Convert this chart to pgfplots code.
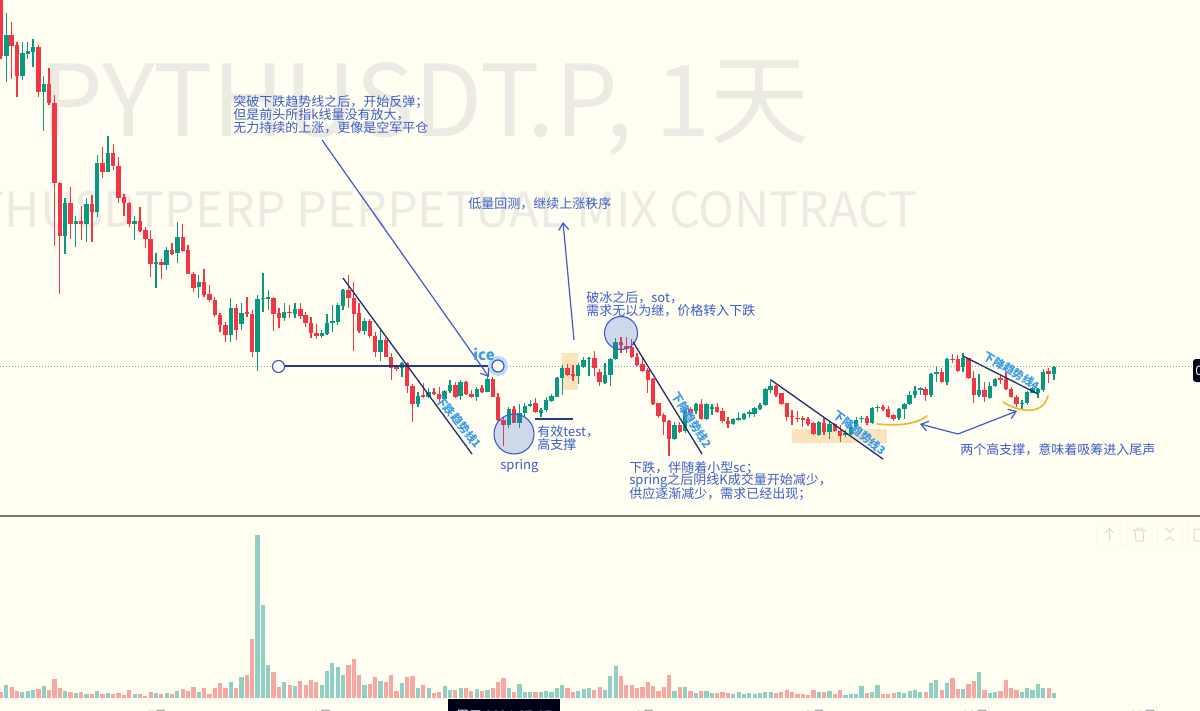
\documentclass[border=0pt]{standalone}
\usepackage{pgfplots}
\usepackage{pgfplotstable}
\pgfplotsset{compat=1.18}
\usetikzlibrary{arrows.meta}
\usepackage{fontspec}
\setmainfont{Noto Sans CJK SC}
\definecolor{bg}{HTML}{FFFEF0}
\definecolor{wm}{HTML}{ECEBE3}
\definecolor{cg}{HTML}{089981}
\definecolor{cr}{HTML}{F23645}
\definecolor{vg}{HTML}{90CFC3}
\definecolor{vr}{HTML}{F7A6A2}
\definecolor{tb}{HTML}{3C5CCC}
\definecolor{lb}{HTML}{3A9AEA}
\definecolor{nv}{HTML}{243A85}
\definecolor{tl}{HTML}{1F2E6E}
\definecolor{org}{HTML}{FBE3BC}
\definecolor{yl}{HTML}{F3B72E}
\definecolor{dot}{HTML}{5FAEA3}
\definecolor{icon}{HTML}{DCDBD2}
\definecolor{ibox}{HTML}{F8F7EA}
\definecolor{cf}{HTML}{3F6AD8}
% i high bodytop bodybottom low volume(px)
\pgfplotstableread{
i hi top bot lo v
1 13 35 56 82 13.3
4 42 53 76 80 6
5 42 51 54 59 6.7
6 39 47 52 67 8.3
8 76 84 92 131 11.7
12 198 203 236 254 6.7
14 216 221 224 247 4.7
16 198 204 224 242 3.7
18 155 163 212 217 6.7
20 136 153 172 172 4.7
25 216 221 224 240 4
29 253 262 264 288 5
31 247 250 265 270 5.3
33 222 237 253 263 7.3
37 275 282 287 298 6.3
43 298 308 335 342 16
45 303 313 324 330 21.3
48 295 299 352 371 163
49 273 298 299 312 93
50 290 297 299 310 32.7
53 303 312 318 321 15.7
55 303 309 314 318 11.7
60 330 333 336 338 13.3
61 314 323 334 335 26.7
62 305 321 323 332 35
63 303 305 322 325 30.7
64 289 290 306 310 23
68 318 321 331 335 12.7
71 328 340 352 361 17
75 362 363 368 377 15
78 392 396 404 407 10
80 388 392 397 398 10
83 390 391 399 400 11.7
84 380 385 391 393 8
86 380 382 396 400 9.7
89 387 389 397 401 9
91 375 379 392 392 8
95 407 409 425 428 10
97 404 413 423 428 14
98 403 406 413 417 6
99 400 404 406 407 6
101 408 410 413 417 6.3
102 397 400 410 412 7
103 394 396 401 402 6.3
104 377 378 397 397 10
105 365 368 378 395 13.3
108 363 365 376 384 7
109 357 360 367 368 8.7
110 357 358 359 376 9.7
113 363 375 383 384 7.7
114 358 359 375 386 22.3
115 338 342 359 360 32.3
126 422 425 439 440 7.3
128 407 409 431 433 10.7
130 403 404 411 414 5
132 403 404 419 420 7.3
133 404 407 409 415 5
137 418 419 424 425 4
138 412 418 420 421 5.7
139 413 414 419 420 4.3
140 410 412 414 418 4.7
141 407 408 414 417 4
142 403 405 409 410 5
143 388 389 405 406 5.7
144 379 386 390 393 5.7
153 421 422 435 436 6.3
155 422 424 432 439 6.7
158 430 433 435 437 3.3
159 425 427 434 435 3.7
160 417 420 427 428 3.7
161 416 418 419 423 11.7
163 407 408 423 424 5.7
164 405 407 408 412 12.7
168 408 409 418 420 6.3
169 403 404 409 419 4.7
170 391 395 404 405 7.3
171 386 391 395 398 7.7
172 387 388 390 395 6.3
174 373 374 395 397 15.3
175 367 372 374 382 17.7
177 358 359 382 385 15.3
180 353 358 367 372 9
183 374 390 395 397 25.7
185 382 386 398 399 5.3
186 378 379 386 387 6
191 400 403 404 409 5.7
192 391 392 403 405 10.3
193 387 388 393 393 8.3
194 388 389 393 398 14
195 369 372 390 392 9.7
197 366 367 374 380 5
}\greens
\pgfplotstableread{
i hi top bot lo v
0 -10 -5 56 59 6.3
2 22 35 46 79 10.7
3 42 45 76 97 6.7
7 45 47 92 97 9
9 68 84 103 105 7.7
10 95 103 183 246 18.7
11 182 183 236 294 10
13 187 203 224 239 5.7
15 206 221 224 240 5.7
17 195 204 212 242 4
19 147 163 172 178 4
21 144 153 166 170 4
22 157 166 198 203 4.7
23 194 197 203 216 3
24 202 203 224 227 8.3
26 207 221 231 232 4
27 227 230 239 248 2.3
28 230 239 264 277 5.7
30 259 262 265 279 4
32 243 250 254 255 4
34 224 237 251 252 9
35 245 250 274 274 7.3
36 272 274 288 292 11
38 269 282 295 297 9.7
39 285 294 300 302 4
40 297 300 315 317 9.7
41 313 315 325 332 15
42 322 325 335 342 9.7
44 304 308 330 340 10
46 297 312 314 317 22.7
47 310 314 352 357 59
51 297 298 314 331 26
52 308 313 318 328 10.7
54 305 312 313 318 13.3
56 303 309 316 319 17
57 312 315 323 327 13.3
58 317 323 333 338 18
59 324 333 336 339 16
65 275 290 298 308 33.3
66 282 298 314 351 39
67 303 313 331 333 23
69 319 321 336 338 14.3
70 332 336 352 357 21.3
72 338 340 357 357 16
73 353 357 368 380 22.7
74 365 367 369 371 6.7
76 362 363 386 393 20.7
77 384 386 404 422 22.3
79 383 395 397 398 13.3
81 388 392 394 395 5.3
82 387 394 399 402 5.7
85 382 385 397 398 7.7
87 381 382 394 395 10
88 390 394 397 398 6.7
90 385 388 392 393 7.3
92 377 379 397 397 10.3
93 393 397 420 421 15.7
94 417 420 425 446 20.3
96 406 409 423 423 6.3
100 398 403 412 413 6
106 364 368 375 376 9.7
107 365 374 376 381 6
111 351 358 368 376 8
112 369 372 382 386 10.7
116 337 342 345 353 22.3
117 337 346 349 353 13
118 339 347 357 358 13.3
119 353 357 365 366 9.7
120 358 364 371 372 11.3
121 368 370 380 393 16
122 378 379 404 405 12
123 403 403 416 418 7.3
124 413 415 422 435 10.7
125 420 421 439 456 23.3
127 422 425 432 433 11
129 407 409 414 417 7
131 399 404 419 420 6.7
134 403 407 412 413 5.3
135 408 411 421 423 5.7
136 417 421 424 428 5.3
145 385 386 395 397 4.7
146 393 393 404 405 5.7
147 403 403 417 421 8
148 410 416 417 425 5.7
149 411 418 419 422 4.3
150 416 418 420 427 3.7
151 417 419 424 426 3
152 422 423 434 435 7.7
154 417 423 432 435 5.7
156 423 424 431 432 4
157 425 431 436 442 8.3
162 416 418 423 425 5
165 405 407 409 411 4.3
166 406 409 417 418 4.3
167 414 415 419 421 5
173 387 389 395 401 6.3
176 368 372 382 383 8.3
178 354 359 360 363 19.7
179 355 359 371 372 9
181 358 358 378 379 13.7
182 371 378 395 403 16.7
184 382 390 397 402 8.3
187 374 378 380 384 6.7
188 372 379 389 390 18
189 387 389 397 398 10.3
190 395 397 404 407 8.3
196 368 371 374 383 10.3
}\reds
\newcommand{\cjk}[1]{\fontsize{#1}{#1}\selectfont}
\tikzset{
 ann/.style={anchor=west,inner sep=0pt,text=tb,font=\cjk{6.5}},
 rot/.style={inner sep=0pt,text=lb,font=\cjk{5.6}\bfseries},
 lbl/.style={anchor=north,inner sep=0pt,text=black!45,font=\cjk{6.5}},
}
\pgfplotsset{
 wicks/.style 2 args={draw=none,mark=none,forget plot,error bars/.cd,y dir=both,y explicit,error mark=none,error bar style={draw=#1,line width=#2}},
}
\begin{document}
\begin{tikzpicture}
\path[use as bounding box] (0,0) rectangle (600pt,355.5pt);
\fill[bg] (0,0) rectangle (600pt,355.5pt);
\begin{scope}
\clip (0,0) rectangle (600pt,355.5pt);
\begin{axis}[at={(0,0)},anchor=south west,scale only axis,width=600pt,height=355.5pt,
  xmin=0,xmax=1200,ymin=0,ymax=711,y dir=reverse,hide axis,clip=true]
% watermark
\node[anchor=base west,inner sep=0pt,text=wm,font=\cjk{49.6}] at (40,137) {PYTHUSDT.P, 1天};
\node[anchor=base east,inner sep=0pt,text=wm,font=\cjk{24.3}] at (918,228) {PYTHUSDTPERP PERPETUAL MIX CONTRACT};
% price line and boxes under the candles
\draw[dot,line width=.5pt,dash pattern=on .5pt off 1pt] (0,366) -- (1194,366);
\fill[org] (562,353) rectangle (578,390);
\fill[org] (792,429) rectangle (887,443);
% candles
\addplot[wicks={cg}{.65pt}] table[x expr=1+5.345*\thisrow{i},y=top,y error plus expr=\thisrow{lo}-\thisrow{top},y error minus expr=\thisrow{top}-\thisrow{hi}] {\greens};
\addplot[wicks={cr}{.65pt}] table[x expr=1+5.345*\thisrow{i},y=top,y error plus expr=\thisrow{lo}-\thisrow{top},y error minus expr=\thisrow{top}-\thisrow{hi}] {\reds};
\addplot[wicks={cg}{2.2pt}] table[x expr=1+5.345*\thisrow{i},y=top,y error plus expr=\thisrow{bot}-\thisrow{top},y error minus expr=0] {\greens};
\addplot[wicks={cr}{2.2pt}] table[x expr=1+5.345*\thisrow{i},y=top,y error plus expr=\thisrow{bot}-\thisrow{top},y error minus expr=0] {\reds};
% volume
\addplot[wicks={vg}{2.1pt}] table[x expr=1+5.345*\thisrow{i},y expr=698-\thisrow{v},y error plus expr=\thisrow{v},y error minus expr=0] {\greens};
\addplot[wicks={vr}{2.1pt}] table[x expr=1+5.345*\thisrow{i},y expr=698-\thisrow{v},y error plus expr=\thisrow{v},y error minus expr=0] {\reds};
% divider
\draw[black!53,line width=.8pt] (0,516) -- (1200,516);
% circles
\fill[cf,fill opacity=.25] (514,434) circle[radius=10pt];
\draw[tb,line width=.55pt] (514,434) circle[radius=10pt];
\fill[cf,fill opacity=.25] (621,333) circle[radius=8.25pt];
\draw[tb,line width=.55pt] (621,333) circle[radius=8.25pt];
% ice level
\draw[nv,line width=.65pt] (284,366) -- (492,366);
\fill[lb!35] (498,366) circle[radius=5pt];
\draw[tb,line width=.6pt,fill=bg] (278.5,366.5) circle[radius=3pt];
\draw[tb,line width=.6pt,fill=bg] (498,366) circle[radius=3pt];
% trend lines
\draw[tl,line width=.65pt] (343,278) -- (472,454);
\draw[tl,line width=.65pt] (633,342) -- (702,454);
\draw[tl,line width=.65pt] (771,380) -- (883,459);
\draw[tl,line width=.65pt] (963,356) -- (1038,394);
\draw[nv,line width=.65pt] (535,419) -- (573,419);
% arrows
\draw[tb,line width=.6pt,-{Straight Barb[length=3.5pt,width=5pt]}] (322,140) -- (489,377);
\draw[tb,line width=.6pt,-{Straight Barb[length=3.5pt,width=5pt]}] (574,340) -- (563,222);
\draw[tb,line width=.6pt,{Straight Barb[length=3.5pt,width=5pt]}-{Straight Barb[length=3.5pt,width=5pt]}] (920,424) -- (958,434) -- (1017,411);
% yellow curves
\draw[yl,line width=.85pt,line cap=round] (877,424) .. controls (895,426) and (915,425) .. (927,416);
\draw[yl,line width=.85pt,line cap=round] (1003,402) .. controls (1015,410) and (1042,418) .. (1048,396);
% annotations
\node[ann] at (233,102) {突破下跌趋势线之后，开始反弹；};
\node[ann] at (233,115) {但是前头所指k线量没有放大，};
\node[ann] at (233,128) {无力持续的上涨，更像是空军平仓};
\node[ann] at (468,204) {低量回测，继续上涨秩序};
\node[ann] at (586,298) {破冰之后，sot，};
\node[ann] at (586,311) {需求无以为继，价格转入下跌};
\node[ann] at (537,432) {有效test，};
\node[ann] at (537,445) {高支撑};
\node[ann] at (500,466) {spring};
\node[ann] at (629,468) {下跌，伴随着小型sc；};
\node[ann] at (629,481) {spring之后阴线K成交量开始减少，};
\node[ann] at (629,494) {供应逐渐减少，需求已经出现；};
\node[ann] at (960,450) {两个高支撑，意味着吸筹进入尾声};
\node[ann,text=lb,font=\cjk{7.5}\bfseries] at (473,354) {ice};
\node[rot,rotate=-51] at (459,422) {下跌趋势线1};
\node[rot,rotate=-58] at (692,420) {下降趋势线2};
\node[rot,rotate=-38] at (860,433) {下降趋势线3};
\node[rot,rotate=-31] at (1012,371) {下降趋势线4};
% toolbar
\foreach \xa in {1097,1127,1157,1187}{
  \edef\tmp{\noexpand\draw[ibox,fill=bg,line width=.4pt,rounded corners=1.5pt] (\xa,522) rectangle (\xa+25,547);}\tmp
}
\draw[icon,line width=.5pt] (1109.5,541) -- (1109.5,529) (1105,533) -- (1109.5,528.5) -- (1114,533);
\draw[icon,line width=.5pt] (1133,530) -- (1146,530) (1135,530) -- (1136,541) -- (1143,541) -- (1144,530) (1137,530) -- (1137,528) -- (1142,528) -- (1142,530);
\draw[icon,line width=.5pt] (1165,528) -- (1169.5,532) -- (1174,528) (1165,541) -- (1169.5,537) -- (1174,541);
\draw[icon,line width=.5pt,rounded corners=1pt] (1200,529) -- (1194,529) -- (1194,541) -- (1200,541);
% right tag
\fill[black!90!blue,rounded corners=1.5pt] (1193,359) rectangle (1210,382);
\node[anchor=west,inner sep=0pt,text=white,font=\cjk{6.5}] at (1195,371) {0};
% date labels
\node[lbl] at (157,710) {5月};
\node[lbl] at (322,710) {6月};
\node[lbl] at (645,710) {8月};
\node[lbl] at (815,710) {9月};
\node[lbl] at (975,710) {10月};
\node[lbl] at (1143,710) {11月};
\fill[black!90!blue] (448,699) rectangle (560,720);
\node[lbl,text=white] at (504,710) {周五 2024-07-05};
\end{axis}
\end{scope}
\end{tikzpicture}
\end{document}
